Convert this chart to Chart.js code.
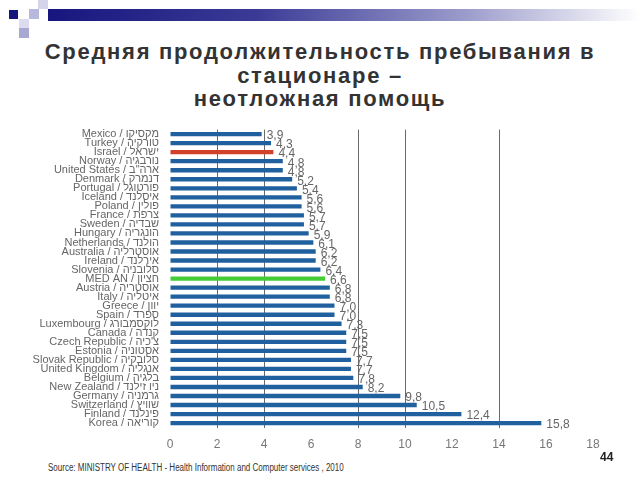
<!DOCTYPE html>
<html lang="ru">
<head>
<meta charset="UTF-8">
<title>Средняя продолжительность пребывания в стационаре</title>
<script src="https://cdn.jsdelivr.net/npm/chart.js"></script>
<style>
    body {
        margin: 0;
        width: 640px;
        height: 480px;
        background: #fff;
        font-family: Arial, "Liberation Sans", sans-serif;
        position: relative;
        overflow: hidden;
    }
    .sq { position: absolute; }
    .band {
        position: absolute;
        left: 48px; top: 9px; width: 592px; height: 12px;
        background: linear-gradient(to right, #16167e 0%, #3a3a96 35%, #9a9acb 70%, #ffffff 100%);
    }
    h1 {
        position: absolute;
        left: 0; top: 40px; width: 640px;
        margin: 0;
        text-align: center;
        font-size: 22px;
        letter-spacing: 1.7px;
        line-height: 23.5px;
        color: #333;
        font-weight: bold;
    }
    .chart-box {
        position: absolute;
        left: 0; top: 120px;
        width: 640px; height: 342px;
    }
    .source {
        position: absolute;
        left: 48px; top: 462px;
        font-size: 10px;
        color: #333;
        white-space: nowrap;
        transform: scaleX(0.8);
        transform-origin: left top;
    }
    .page {
        position: absolute;
        left: 600px; top: 450px;
        font-size: 12px;
        font-weight: bold;
        color: #222;
    }
</style>
</head>
<body>

<div class="sq" style="left:9px;top:10px;width:9px;height:9px;background:#16167e"></div>
<div class="sq" style="left:29px;top:9px;width:10px;height:10px;background:#b8b8dc"></div>
<div class="sq" style="left:38px;top:0px;width:10px;height:9px;background:#d4d4ea"></div>
<div class="sq" style="left:19px;top:19px;width:10px;height:9px;background:#dcdcee"></div>
<div class="sq" style="left:19px;top:28px;width:10px;height:10px;background:#a8a8d2"></div>
<div class="band"></div>

<h1>Средняя продолжительность пребывания в<br>стационаре –<br>неотложная помощь</h1>

<div class="chart-box"><canvas id="losChart"></canvas></div>

<div class="source">Source: MINISTRY OF HEALTH - Health Information and Computer services , 2010</div>
<div class="page">44</div>

<script>
    // countries (English / Hebrew), top to bottom
    const countries = [
        'Mexico / מקסיקו', 'Turkey / טורקיה', 'Israel / ישראל', 'Norway / נורבגיה',
        'United States / ארה"ב', 'Denmark / דנמרק', 'Portugal / פורטוגל', 'Iceland / איסלנד',
        'Poland / פולין', 'France / צרפת', 'Sweden / שבדיה', 'Hungary / הונגריה',
        'Netherlands / הולנד', 'Australia / אוסטרליה', 'Ireland / אירלנד', 'Slovenia / סלובניה',
        'MED AN / חציון', 'Austria / אוסטריה', 'Italy / איטליה', 'Greece / יוון',
        'Spain / ספרד', 'Luxembourg / לוקסמבורג', 'Canada / קנדה', 'Czech Republic / צ\'כיה',
        'Estonia / אסטוניה', 'Slovak Republic / סלובקיה', 'United Kingdom / אנגליה', 'Belgium / בלגיה',
        'New Zealand / ניו זילנד', 'Germany / גרמניה', 'Switzerland / שוויץ', 'Finland / פינלנד',
        'Korea / קוריאה'
    ];

    // average length of stay, days
    const stayDays = [
        3.9, 4.3, 4.4, 4.8,
        4.8, 5.2, 5.4, 5.6,
        5.6, 5.7, 5.7, 5.9,
        6.1, 6.2, 6.2, 6.4,
        6.6, 6.8, 6.8, 7.0,
        7.0, 7.3, 7.5, 7.5,
        7.5, 7.7, 7.7, 7.8,
        8.2, 9.8, 10.5, 12.4,
        15.8
    ];

    const xTicks = [0, 2, 4, 6, 8, 10, 12, 14, 16, 18];
    const gridAt = [2, 4, 8, 10, 14];   // the lines that show in the original

    const barColors = countries.map(c => {
        if (c.startsWith('Israel')) return '#d2412a';
        if (c.startsWith('MED AN')) return '#43cc35';
        return '#21609f';
    });

    // draws "3,9" style labels past the bar ends
    const valueLabels = {
        id: 'valueLabels',
        afterDatasetsDraw(chart) {
            const ctx = chart.ctx;
            const meta = chart.getDatasetMeta(0);
            ctx.save();
            ctx.font = '12px Arial';
            ctx.fillStyle = '#666';
            ctx.textBaseline = 'middle';
            ctx.textAlign = 'left';
            meta.data.forEach((bar, i) => {
                const txt = stayDays[i].toFixed(1).replace('.', ',');
                ctx.fillText(txt, bar.x + 5, bar.y + 2);
            });
            ctx.restore();
        }
    };

    new Chart(document.getElementById('losChart'), {
        type: 'bar',
        data: {
            labels: countries,
            datasets: [{
                data: stayDays,
                backgroundColor: barColors,
                barPercentage: 0.48,
                categoryPercentage: 1.0
            }]
        },
        options: {
            indexAxis: 'y',
            responsive: true,
            maintainAspectRatio: false,
            animation: false,
            layout: { padding: { top: 8, right: 47, left: 0, bottom: 0 } },
            plugins: {
                legend: { display: false },
                tooltip: { enabled: false }
            },
            scales: {
                x: {
                    min: 0,
                    max: 18,
                    afterBuildTicks: axis => { axis.ticks = xTicks.map(v => ({ value: v })); },
                    border: { display: false },
                    grid: {
                        drawTicks: false,
                        color: ctx => gridAt.includes(ctx.tick && ctx.tick.value) ? '#6a6a6a' : 'rgba(0,0,0,0)'
                    },
                    ticks: {
                        padding: 10,
                        color: '#777',
                        font: { family: 'Arial', size: 12 }
                    }
                },
                y: {
                    afterFit: axis => { axis.width = 170; },
                    border: { display: false },
                    grid: { display: false },
                    ticks: {
                        padding: 3,
                        autoSkip: false,
                        color: '#666',
                        font: { family: 'Arial', size: 11 }
                    }
                }
            }
        },
        plugins: [valueLabels]
    });
</script>

</body>
</html>
